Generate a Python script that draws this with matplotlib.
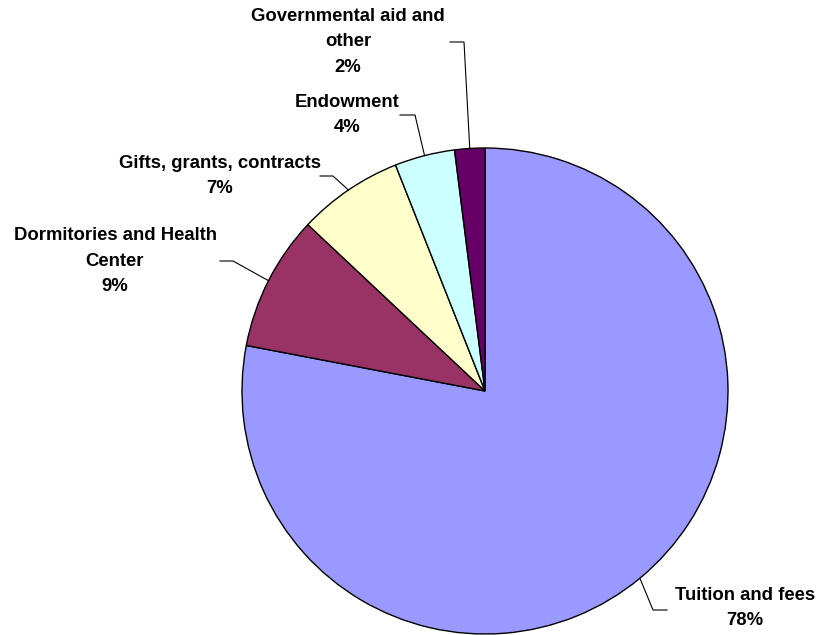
import numpy as np
import matplotlib
matplotlib.use("Agg")
import matplotlib.pyplot as plt

# ── data ──────────────────────────────────────────────────────────────────────
categories = ["Tuition and fees", "Dormitories and Health\nCenter",
              "Gifts, grants, contracts", "Endowment",
              "Governmental aid and\nother"]
shares = [78, 9, 7, 4, 2]
colors = ["#9999FF", "#993366", "#FFFFCC", "#CCFFFF", "#660066"]

# label anchor (text centre, pixels from top-left) and elbow of leader line
label_pos = [(745, 608), (115, 261), (220, 176), (347, 115), (348, 42)]
line_y = [610, 261, 176, 115, 42]
elbow_x = [653, 233, 333, 415, 464]
text_edge_x = [667, 220, 320, 400, 450]

W, H = 818, 635
CX, CY, R = 485, 391, 243

fig = plt.figure(figsize=(W / 100, H / 100), dpi=100)
ax = fig.add_axes([0, 0, 1, 1])

wedges, _ = ax.pie(shares, colors=colors, startangle=90, counterclock=False,
                   center=(CX, H - CY), radius=R,
                   wedgeprops=dict(edgecolor="black", linewidth=1.0))
ax.set_xlim(0, W)
ax.set_ylim(0, H)
ax.set_aspect("equal")
ax.axis("off")

font = dict(family=["Liberation Sans", "DejaVu Sans"], fontweight="bold",
            fontsize=13.3, color="black")

for w, cat, val, (lx, ly), yl, ex, tx in zip(wedges, categories, shares,
                                             label_pos, line_y, elbow_x,
                                             text_edge_x):
    mid = np.deg2rad((w.theta1 + w.theta2) / 2)
    px = CX + R * np.cos(mid)
    py = CY - R * np.sin(mid)
    ax.plot([px, ex, tx], [H - py, H - yl, H - yl],
            color="black", linewidth=0.8)
    ax.text(lx, H - ly, f"{cat}\n{val}%", ha="center", va="center",
            linespacing=1.68, **font)

fig.savefig("out.png", dpi=100, facecolor="white")
